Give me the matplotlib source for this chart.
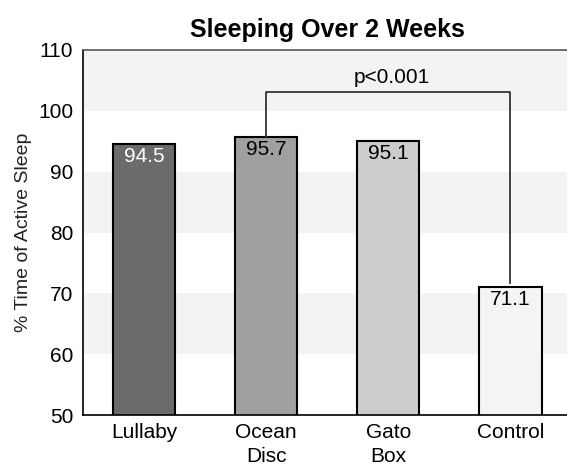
import matplotlib.pyplot as plt
import numpy as np

plt.rcParams['font.family'] = ['Liberation Sans', 'DejaVu Sans']

# dados
grupos = ['Lullaby', 'Ocean\nDisc', 'Gato\nBox', 'Control']
valores = [94.5, 95.7, 95.1, 71.1]
cores = ['#6b6b6b', '#a0a0a0', '#cccccc', '#f4f4f4']
cor_texto = ['white', 'black', 'black', 'black']
faixas = [(60, 70), (80, 90), (100, 110)]
p_texto = 'p<0.001'
p_altura = 103.1


def main():
    fig = plt.figure(figsize=(5.67, 4.67), dpi=100)
    ax = fig.add_axes([0.146, 0.111, 0.862, 0.782])

    for lo, hi in faixas:
        ax.axhspan(lo, hi, color='#f3f3f3', zorder=0, lw=0)

    x = np.arange(len(grupos))
    ax.bar(x, valores, width=0.51, color=cores, edgecolor='black', linewidth=1.5, zorder=2)

    for xi, v, c in zip(x, valores, cor_texto):
        ax.text(xi, v - 0.5, f'{v}', ha='center', va='top', fontsize=15, color=c, zorder=3)

    # colchete de significancia
    ax.plot([1, 1, 3, 3], [valores[1], p_altura, p_altura, valores[3] + 0.6],
            color='#333333', lw=1.3, zorder=3)
    ax.text(2.03, p_altura + 0.8, p_texto, ha='center', va='bottom', fontsize=15)

    ax.set_xlim(-0.5, 3.5)
    ax.set_ylim(50, 110)
    ax.set_yticks(range(50, 111, 10))
    ax.set_xticks(x)
    ax.set_xticklabels(grupos, fontsize=15, linespacing=1.3)
    ax.tick_params(axis='y', labelsize=15, length=0, pad=7)
    ax.tick_params(axis='x', length=0, pad=6)
    ax.set_ylabel('% Time of Active Sleep', fontsize=14, color='#222222', labelpad=4)
    ax.set_title('Sleeping Over 2 Weeks', fontsize=18, fontweight='bold', pad=9)

    ax.spines['right'].set_visible(False)
    for s in ['left', 'bottom', 'top']:
        ax.spines[s].set_linewidth(1.2)
    ax.spines['top'].set_color('#555555')

    fig.savefig('out.png', dpi=100)


main()
